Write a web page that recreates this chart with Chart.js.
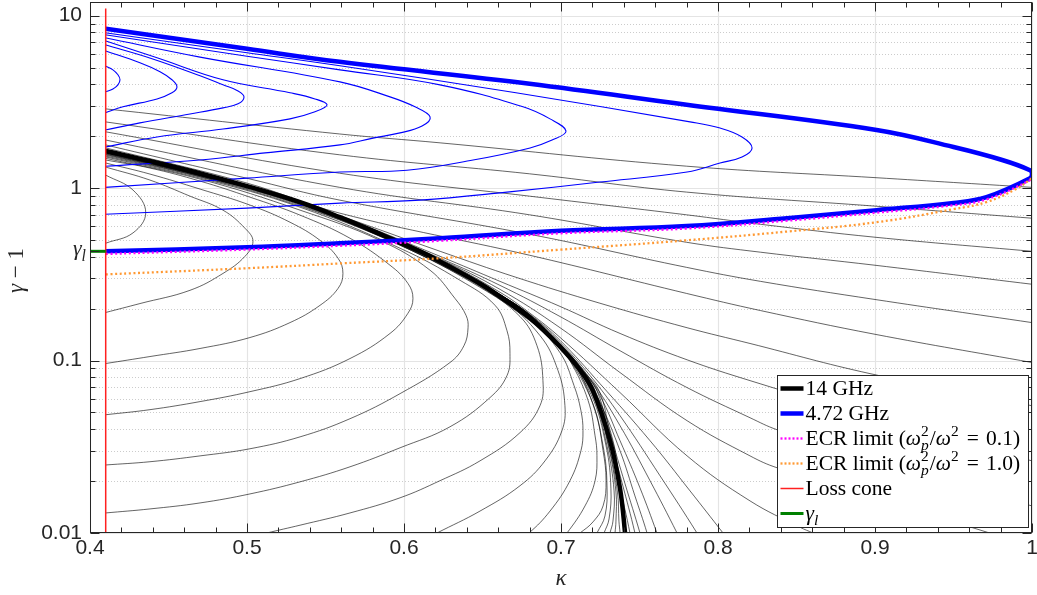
<!DOCTYPE html>
<html><head><meta charset="utf-8">
<script src="https://cdn.jsdelivr.net/npm/chart.js@4.4.0/dist/chart.umd.min.js"></script>
<style>html,body{margin:0;padding:0;background:#fff;overflow:hidden}canvas{display:block}</style>
</head><body>
<canvas id="c" width="1037" height="595"></canvas>
<script>
// ---------------- data (kappa, gamma-1) ----------------
const KAPPA_TICKS = [0.4, 0.5, 0.6, 0.7, 0.8, 0.9, 1.0];
const GAMMA_TICKS = [0.01, 0.1, 1, 10];
const GAMMA_L = 0.43;
const LOSS_CONE = 0.41;
const LOSS_CONE_TOP = 11;
const X_TITLE = 'κ';
const Y_TITLE = ['γ', ' − 1'];

const curve14GHz = [[0.41,1.641],[0.4382,1.435],[0.4745,1.19],[0.5,1.027],[0.5338,0.829],[0.5592,0.678],[0.5866,0.533],[0.6102,0.43],[0.6229,0.376],[0.6484,0.28],[0.6611,0.2355],[0.6803,0.176],[0.6994,0.1205],[0.7121,0.0884],[0.7204,0.0668],[0.7312,0.0343],[0.7376,0.0181],[0.7408,0.01],[0.7414,0.0084]];
const curve472GHz = [[0.41,8.4],[0.5,6.42],[0.559,5.4],[0.68,4.03],[0.78,3.04],[0.901,2.17],[0.95,1.73],[0.981,1.455],[0.9987,1.27],[1.0,1.21],[0.9987,1.14],[0.971,0.886],[0.95,0.82],[0.901,0.745],[0.844,0.669],[0.78,0.602],[0.70,0.565],[0.623,0.512],[0.559,0.479],[0.5,0.454],[0.41,0.43]];
const ecrLimit01 = [[0.41,0.415],[0.5,0.44],[0.559,0.463],[0.623,0.495],[0.70,0.547],[0.78,0.583],[0.844,0.647],[0.901,0.72],[0.95,0.795],[0.971,0.86],[0.9987,1.11],[1.0,1.16]];
const ecrLimit10 = [[0.41,0.316],[0.5,0.343],[0.56,0.366],[0.623,0.392],[0.70,0.44],[0.78,0.498],[0.844,0.56],[0.901,0.634],[0.95,0.755],[0.971,0.83],[0.99,0.99],[1.0,1.14]];

// 4.72 GHz thin family
const blueFamily = [
 [[0.4096,5.12],[0.4146,4.85],[0.4178,4.54],[0.4191,4.25],[0.4178,3.97],[0.4146,3.76],[0.4096,3.61]],
 [[0.4096,6.26],[0.4318,5.33],[0.4446,4.73],[0.4522,4.25],[0.4554,3.86],[0.4522,3.57],[0.4427,3.29],[0.421,2.96],[0.4096,2.73]],
 [[0.4096,6.78],[0.4395,5.63],[0.4701,4.48],[0.4847,3.97],[0.4943,3.66],[0.4981,3.38],[0.4943,3.08],[0.4847,2.92],[0.4637,2.69],[0.4318,2.39],[0.4096,2.17]],
 [[0.4096,7.16],[0.4427,5.7],[0.4847,4.25],[0.5274,3.57],[0.5433,3.29],[0.551,3.04],[0.5433,2.77],[0.5274,2.52],[0.4847,2.2],[0.4427,1.98],[0.4096,1.73]],
 [[0.4096,7.45],[0.4701,5.75],[0.5592,4.13],[0.5911,3.38],[0.607,2.96],[0.6166,2.59],[0.6115,2.29],[0.5975,2.09],[0.5803,1.95],[0.5592,1.78],[0.5115,1.60],[0.4701,1.455],[0.4096,1.34]],
 [[0.4096,7.75],[0.5,5.82],[0.5592,4.85],[0.6229,3.97],[0.6758,2.96],[0.693,2.52],[0.7032,2.14],[0.6943,1.9],[0.6803,1.71],[0.644,1.455],[0.6019,1.27],[0.5592,1.24],[0.5,1.143],[0.4096,1.01]],
 [[0.4096,7.96],[0.5,6.1],[0.5592,5.12],[0.6713,3.57],[0.7822,2.42],[0.8013,2.23],[0.8153,1.98],[0.8217,1.71],[0.8153,1.515],[0.8013,1.398],[0.7803,1.24],[0.7248,1.084],[0.6656,0.948],[0.6102,0.852],[0.5592,0.818],[0.5,0.765],[0.4096,0.706]]
];

// 14 GHz thin family: curves reaching kappa = 1
const blackUpper = [
 [[0.41,2.88],[0.559,2.06],[0.623,1.83],[0.78,1.34],[0.90,1.15],[1.0,1.01]],
 [[0.41,2.42],[0.559,1.56],[0.68,1.21],[0.78,0.948],[0.90,0.786],[1.0,0.669]],
 [[0.41,2.12],[0.559,1.22],[0.68,0.898],[0.78,0.70],[0.827,0.617],[0.90,0.519],[1.0,0.43]],
 [[0.41,1.90],[0.559,1.01],[0.68,0.70],[0.78,0.485],[0.827,0.425],[0.90,0.357],[1.0,0.277]],
 [[0.41,1.78],[0.5,1.14],[0.559,0.852],[0.68,0.54],[0.78,0.347],[0.827,0.288],[0.90,0.226],[1.0,0.166]],
 [[0.41,1.71],[0.5,1.069],[0.559,0.716],[0.68,0.408],[0.78,0.245],[0.827,0.195],[0.90,0.142],[1.0,0.0974]],
 [[0.41,1.674],[0.5,1.041],[0.559,0.692],[0.623,0.43],[0.6713,0.304],[0.7248,0.215],[0.7803,0.155],[0.8204,0.1256],[0.8968,0.084],[1.0,0.0547]],
 [[0.41,1.67],[0.5,1.038],[0.559,0.689],[0.623,0.402],[0.6611,0.288],[0.6994,0.206],[0.7376,0.1436],[0.7803,0.101],[0.8204,0.0765],[0.9159,0.0419],[1.0,0.0262]],
 [[0.41,1.665],[0.5,1.037],[0.559,0.688],[0.623,0.392],[0.6611,0.273],[0.6994,0.18],[0.7376,0.114],[0.7803,0.0697],[0.8204,0.0466],[0.8376,0.0397],[0.9159,0.0229],[1.0,0.01436]],
 [[0.41,1.663],[0.5,1.036],[0.559,0.687],[0.623,0.387],[0.6611,0.2588],[0.6994,0.155],[0.7376,0.0852],[0.7803,0.0448],[0.8204,0.028],[0.8376,0.0239],[0.9159,0.01436],[0.973,0.01],[0.99,0.0088]],
 [[0.41,1.66],[0.5,1.035],[0.559,0.686],[0.623,0.384],[0.6611,0.249],[0.6803,0.188],[0.6994,0.1362],[0.7376,0.0652],[0.7803,0.028],[0.8204,0.01535],[0.8522,0.0108],[0.8605,0.01],[0.8713,0.009]]
];

// 14 GHz thin family: curves right of the thick one, ending at the bottom
const blackRight = [
 [[0.41,1.643],[0.5,1.03],[0.559,0.68],[0.623,0.378],[0.6611,0.24],[0.6803,0.18],[0.6994,0.122],[0.7121,0.0895],[0.7217,0.0668],[0.7331,0.0343],[0.7376,0.01876],[0.7439,0.01],[0.7449,0.0084]],
 [[0.41,1.643],[0.5,1.03],[0.559,0.68],[0.623,0.378],[0.6611,0.24],[0.6803,0.181],[0.6994,0.1222],[0.7121,0.09],[0.7229,0.0668],[0.7312,0.0352],[0.7389,0.01953],[0.7471,0.01],[0.7484,0.0084]],
 [[0.41,1.643],[0.5,1.03],[0.559,0.68],[0.623,0.378],[0.6611,0.24],[0.6803,0.182],[0.6994,0.1224],[0.7121,0.0905],[0.7242,0.0668],[0.7312,0.0382],[0.7408,0.01927],[0.7503,0.01],[0.7522,0.0084]],
 [[0.41,1.643],[0.5,1.03],[0.559,0.68],[0.623,0.378],[0.6611,0.241],[0.6803,0.183],[0.6994,0.1228],[0.7121,0.091],[0.7248,0.057],[0.7376,0.030],[0.7471,0.0164],[0.7548,0.01],[0.7567,0.0084]],
 [[0.41,1.643],[0.5,1.03],[0.559,0.68],[0.623,0.378],[0.6611,0.241],[0.6803,0.183],[0.6994,0.1236],[0.7121,0.0925],[0.7248,0.0626],[0.7376,0.0343],[0.7503,0.01827],[0.7611,0.01],[0.7637,0.0084]],
 [[0.41,1.643],[0.5,1.03],[0.559,0.68],[0.623,0.378],[0.6611,0.241],[0.6803,0.183],[0.6994,0.125],[0.7185,0.0786],[0.7376,0.0419],[0.7567,0.0201],[0.7739,0.01],[0.7777,0.0084]],
 [[0.41,1.643],[0.5,1.03],[0.559,0.68],[0.623,0.378],[0.6611,0.241],[0.6803,0.184],[0.6994,0.1274],[0.7185,0.0818],[0.7376,0.0479],[0.7631,0.02145],[0.7866,0.01],[0.7911,0.0084]],
 [[0.41,1.643],[0.5,1.03],[0.559,0.681],[0.623,0.378],[0.6484,0.28],[0.6611,0.242],[0.6803,0.185],[0.6994,0.131],[0.7248,0.0735],[0.7567,0.0343],[0.7822,0.01754],[0.8032,0.01],[0.8096,0.0084]]
];

// 14 GHz thin family: curves left of the thick one (turning back)
const blackInner = [
 [[0.41,1.19],[0.4274,0.974],[0.4355,0.72],[0.4274,0.55],[0.41,0.479]],
 [[0.41,1.324],[0.4382,1.113],[0.4637,0.898],[0.4847,0.745],[0.4987,0.585],[0.5038,0.492],[0.4987,0.402],[0.4847,0.32],[0.4637,0.2555],[0.4318,0.214],[0.41,0.19]],
 [[0.41,1.398],[0.4382,1.206],[0.4701,0.987],[0.5019,0.797],[0.5274,0.634],[0.5465,0.498],[0.558,0.392],[0.5611,0.32],[0.558,0.262],[0.5465,0.209],[0.5274,0.166],[0.5019,0.136],[0.4701,0.1175],[0.4382,0.1055],[0.41,0.0961]],
 [[0.41,1.455],[0.4382,1.307],[0.4701,1.098],[0.5019,0.886],[0.5338,0.697],[0.5656,0.512],[0.5911,0.357],[0.6025,0.28],[0.6057,0.229],[0.6025,0.188],[0.5911,0.1436],[0.5656,0.1027],[0.5338,0.0786],[0.5019,0.066],[0.4701,0.0578],[0.4382,0.0519],[0.41,0.0485]],
 [[0.41,1.488],[0.4701,1.128],[0.5338,0.745],[0.5847,0.498],[0.6166,0.334],[0.6325,0.229],[0.6395,0.183],[0.6408,0.155],[0.6382,0.122],[0.6293,0.0974],[0.5975,0.0643],[0.5656,0.046],[0.5338,0.0361],[0.5019,0.0308],[0.4701,0.028],[0.4382,0.0259],[0.41,0.0248]],
 [[0.41,1.515],[0.4701,1.143],[0.5338,0.775],[0.5975,0.448],[0.6357,0.292],[0.658,0.209],[0.6656,0.149],[0.6675,0.11],[0.6656,0.0818],[0.6548,0.061],[0.6293,0.0413],[0.5975,0.0312],[0.5656,0.0242],[0.5338,0.0198],[0.5019,0.01685],[0.4701,0.01494],[0.4382,0.01379],[0.41,0.01307]],
 [[0.41,1.534],[0.4701,1.159],[0.5338,0.786],[0.5975,0.466],[0.6484,0.266],[0.6739,0.18],[0.6847,0.122],[0.6885,0.0765],[0.6866,0.0547],[0.6739,0.0382],[0.6484,0.0262],[0.6229,0.0201],[0.5975,0.016],[0.5656,0.01307],[0.5338,0.0111],[0.5127,0.01],[0.4936,0.009]],
 [[0.41,1.555],[0.4701,1.166],[0.5338,0.797],[0.6102,0.413],[0.6611,0.229],[0.6866,0.1397],[0.6981,0.0875],[0.7025,0.0548],[0.7006,0.0392],[0.6898,0.0262],[0.6739,0.0188],[0.6484,0.0134],[0.621,0.01],[0.6083,0.0087]],
 [[0.41,1.57],[0.4701,1.175],[0.5338,0.81],[0.6229,0.361],[0.6803,0.17],[0.6994,0.111],[0.7083,0.0716],[0.7127,0.0512],[0.714,0.0392],[0.7127,0.03],[0.7057,0.0201],[0.693,0.0134],[0.6796,0.01],[0.6675,0.0084]],
 [[0.41,1.58],[0.4701,1.179],[0.5338,0.807],[0.6229,0.366],[0.6803,0.172],[0.6994,0.117],[0.7057,0.1],[0.7172,0.0589],[0.7217,0.0366],[0.7229,0.0281],[0.7217,0.0201],[0.7153,0.01436],[0.7038,0.01],[0.6962,0.0084]],
 [[0.41,1.594],[0.4701,1.182],[0.5338,0.811],[0.6229,0.368],[0.6803,0.173],[0.6994,0.118],[0.7089,0.095],[0.7217,0.0512],[0.7268,0.03],[0.7287,0.0201],[0.7268,0.01436],[0.7204,0.0116],[0.7121,0.01],[0.7057,0.0091]],
 [[0.41,1.60],[0.4701,1.185],[0.5338,0.815],[0.6229,0.369],[0.6803,0.1735],[0.6994,0.119],[0.7185,0.0618],[0.7268,0.032],[0.7293,0.01876],[0.728,0.01256],[0.7229,0.01],[0.7197,0.00875]],
 [[0.41,1.606],[0.4701,1.187],[0.5338,0.817],[0.6229,0.371],[0.6803,0.174],[0.6994,0.1195],[0.7191,0.0636],[0.7287,0.032],[0.7318,0.01803],[0.7306,0.01206],[0.7274,0.01],[0.7248,0.00875]],
 [[0.41,1.613],[0.4701,1.188],[0.5338,0.819],[0.6229,0.373],[0.6803,0.1745],[0.6994,0.12],[0.7197,0.0643],[0.7293,0.032],[0.7338,0.01754],[0.7331,0.01172],[0.7312,0.01],[0.7299,0.00875]],
 [[0.41,1.62],[0.4701,1.19],[0.5338,0.822],[0.6229,0.374],[0.6803,0.175],[0.6994,0.1202],[0.7201,0.0648],[0.7303,0.0316],[0.735,0.0173],[0.735,0.01172],[0.7344,0.01],[0.7338,0.00875]],
 [[0.41,1.628],[0.4701,1.192],[0.5338,0.826],[0.6229,0.375],[0.6803,0.1755],[0.6994,0.1204],[0.7204,0.065],[0.7306,0.0316],[0.736,0.0171],[0.7369,0.01172],[0.7376,0.01],[0.7379,0.00875]]
];

// ---------------- styles ----------------
const THIN_BLACK = 'rgba(0,0,0,0.72)';
const BLUE = '#0000ff';
const MAGENTA = '#ff00ff';
const ORANGE = '#ff9933';
const RED = '#ff2020';
const GREEN = '#008000';
const AXIS = '#262626';
const SERIF = '"Liberation Serif", "DejaVu Serif", serif';
const SANS = '"Liberation Sans", Arial, sans-serif';

const sets = [];
function addLine(pts, color, width, order, opt) {
  sets.push(Object.assign({
    data: pts.map(p => ({x: p[0], y: p[1]})),
    showLine: true, borderColor: color, backgroundColor: color,
    borderWidth: width, pointRadius: 0, pointHoverRadius: 0,
    tension: 0.4, fill: false, order: order
  }, opt || {}));
}
blackInner.forEach(c => addLine(c, THIN_BLACK, 0.85, 10));
blackUpper.forEach(c => addLine(c, THIN_BLACK, 0.85, 10));
blackRight.forEach(c => addLine(c, THIN_BLACK, 0.85, 10));
blueFamily.forEach(c => addLine(c, BLUE, 1.1, 9));
addLine(curve14GHz, '#000000', 4.5, 8);
addLine(curve472GHz, BLUE, 4.5, 7);
addLine(ecrLimit01, MAGENTA, 2.3, 6, {borderDash: [2, 2.6]});
addLine(ecrLimit10, ORANGE, 2.3, 5, {borderDash: [2, 2.6]});
addLine([[LOSS_CONE, 0.01], [LOSS_CONE, LOSS_CONE_TOP]], RED, 1.5, 4, {tension: 0});
addLine([[KAPPA_TICKS[0], GAMMA_L], [LOSS_CONE, GAMMA_L]], GREEN, 3, 3, {tension: 0});

// legend entries
const EQ = ' \u200A=\u200A ';
const legendEntries = [
  {runs: [{t: '14 GHz'}], color: '#000000', w: 4.5},
  {runs: [{t: '4.72 GHz'}], color: BLUE, w: 4.5},
  {runs: [{t: 'ECR limit ('}, {t: 'ω', it: 1}, {t: '2', sup: 1, hold: 1}, {t: 'p', sub: 1, it: 1}, {t: '/'}, {t: 'ω', it: 1}, {t: '2', sup: 1}, {t: EQ + '0.1)'}], color: MAGENTA, w: 2.3, dash: [2, 2]},
  {runs: [{t: 'ECR limit ('}, {t: 'ω', it: 1}, {t: '2', sup: 1, hold: 1}, {t: 'p', sub: 1, it: 1}, {t: '/'}, {t: 'ω', it: 1}, {t: '2', sup: 1}, {t: EQ + '1.0)'}], color: ORANGE, w: 2.3, dash: [2, 2]},
  {runs: [{t: 'Loss cone'}], color: RED, w: 1.5},
  {runs: [{t: 'γ', it: 1}, {t: 'l', sub: 1, it: 1}], color: GREEN, w: 3}
];

function runsWidth(ctx, runs, size) {
  let w = 0;
  for (const r of runs) {
    const s = (r.sup || r.sub) ? size * 0.72 : size;
    ctx.font = (r.it ? 'italic ' : '') + s + 'px ' + SERIF;
    if (!r.hold) w += ctx.measureText(r.t).width;
  }
  return w;
}
function drawRuns(ctx, x, y, runs, size) {
  let cx = x;
  for (const r of runs) {
    const s = (r.sup || r.sub) ? size * 0.72 : size;
    ctx.font = (r.it ? 'italic ' : '') + s + 'px ' + SERIF;
    const dy = r.sup ? -size * 0.38 : (r.sub ? size * 0.24 : 0);
    ctx.fillText(r.t, cx, y + dy);
    if (!r.hold) cx += ctx.measureText(r.t).width + ((r.sup || r.sub) ? 1 : 0);
  }
  return cx;
}

const framePlugin = {
  id: 'frame',
  beforeDatasetsDraw(chart) {
    const {ctx, chartArea: a, scales: {x, y}} = chart;
    ctx.save();
    ctx.lineWidth = 1;
    ctx.strokeStyle = 'rgba(0,0,0,0.2)';
    ctx.setLineDash([1, 2]);
    for (const dec of GAMMA_TICKS) {
      for (let m = 2; m <= 9; m++) {
        const v = dec * m;
        if (v >= y.max) break;
        const p = Math.round(y.getPixelForValue(v)) + 0.5;
        ctx.beginPath(); ctx.moveTo(a.left, p); ctx.lineTo(a.right, p); ctx.stroke();
      }
    }
    ctx.setLineDash([]);
    ctx.strokeStyle = '#e4e4e4';
    ctx.lineWidth = 1.2;
    for (const v of GAMMA_TICKS) {
      const p = Math.round(y.getPixelForValue(v)) + 0.5;
      ctx.beginPath(); ctx.moveTo(a.left, p); ctx.lineTo(a.right, p); ctx.stroke();
    }
    for (const v of KAPPA_TICKS) {
      const p = Math.round(x.getPixelForValue(v)) + 0.5;
      ctx.beginPath(); ctx.moveTo(p, a.top); ctx.lineTo(p, a.bottom); ctx.stroke();
    }
    ctx.restore();
  },
  afterDatasetsDraw(chart) {
    const {ctx, chartArea: a, scales: {x, y}} = chart;
    ctx.save();
    ctx.strokeStyle = AXIS;
    ctx.lineWidth = 1;
    const L = Math.round(a.left) + 0.5, R = Math.round(a.right) - 0.5;
    const T = Math.round(a.top) + 0.5, B = Math.round(a.bottom) - 0.5;
    ctx.strokeRect(L, T, R - L, B - T);
    const seg = (x1, y1, x2, y2) => { ctx.beginPath(); ctx.moveTo(x1, y1); ctx.lineTo(x2, y2); ctx.stroke(); };
    for (let i = 0; i <= 30; i++) {
      const v = KAPPA_TICKS[0] + i * 0.02;
      const p = Math.round(x.getPixelForValue(v)) + 0.5;
      const len = (i % 5 === 0) ? 9 : 5;
      seg(p, B, p, B - len); seg(p, T, p, T + len);
    }
    const yt = (v, len) => { const p = Math.round(y.getPixelForValue(v)) + 0.5; seg(L, p, L + len, p); seg(R, p, R - len, p); };
    for (const dec of GAMMA_TICKS) {
      yt(dec, 9);
      for (let m = 2; m <= 9; m++) { if (dec * m < y.max) yt(dec * m, 5); }
    }
    yt(GAMMA_L, 9);
    ctx.restore();
  },
  afterDraw(chart) {
    const {ctx, chartArea: a, scales: {y}} = chart;
    ctx.save();
    ctx.fillStyle = AXIS;
    ctx.textBaseline = 'alphabetic';
    const py = y.getPixelForValue(GAMMA_L);
    const gl = [{t: 'γ', it: 1}, {t: 'l', sub: 1, it: 1}];
    const glw = runsWidth(ctx, gl, 22);
    drawRuns(ctx, a.left - 4 - glw, py + 4, gl, 22);
    ctx.font = 'italic 23px ' + SERIF;
    ctx.textAlign = 'center';
    ctx.fillText(X_TITLE, (a.left + a.right) / 2, a.bottom + 52);
    ctx.textAlign = 'left';
    const yr = [{t: Y_TITLE[0], it: 1}, {t: Y_TITLE[1]}];
    const yw = runsWidth(ctx, yr, 23);
    ctx.save();
    ctx.translate(23, (a.top + a.bottom) / 2 + 3);
    ctx.rotate(-Math.PI / 2);
    drawRuns(ctx, -yw / 2, 0, yr, 23);
    ctx.restore();
    const bw = 251, bh = 152;
    const bx = Math.round(a.right - 4 - bw) + 0.5, by = Math.round(a.bottom - 6 - bh) + 0.5;
    ctx.fillStyle = '#ffffff';
    ctx.fillRect(bx, by, bw, bh);
    ctx.strokeStyle = AXIS;
    ctx.lineWidth = 1;
    ctx.strokeRect(bx, by, bw, bh);
    legendEntries.forEach((e, i) => {
      const ry = by + 13 + i * 25;
      ctx.save();
      ctx.strokeStyle = e.color;
      ctx.lineWidth = e.w;
      ctx.setLineDash(e.dash || []);
      ctx.beginPath(); ctx.moveTo(bx + 3, ry); ctx.lineTo(bx + 26, ry); ctx.stroke();
      ctx.restore();
      ctx.fillStyle = '#000000';
      drawRuns(ctx, bx + 28, ry + 6, e.runs, 21.5);
    });
    ctx.restore();
  }
};

new Chart(document.getElementById('c').getContext('2d'), {
  type: 'scatter',
  data: {datasets: sets},
  options: {
    responsive: false, animation: false, devicePixelRatio: 1, events: [],
    layout: {padding: {left: 0, top: 2, right: 5, bottom: 0}},
    plugins: {legend: {display: false}, tooltip: {enabled: false}},
    scales: {
      x: {
        type: 'linear', min: KAPPA_TICKS[0], max: KAPPA_TICKS[KAPPA_TICKS.length - 1],
        grid: {display: false, drawTicks: false}, border: {display: false},
        ticks: {font: {family: SANS, size: 21}, color: AXIS, padding: 3, maxRotation: 0, autoSkip: false,
          callback: v => (v === 1 ? '1' : Number(v).toFixed(1))},
        afterBuildTicks: s => { s.ticks = KAPPA_TICKS.map(v => ({value: v})); },
        afterFit: s => { s.height = 62; s.paddingLeft = 0; s.paddingRight = 0; }
      },
      y: {
        type: 'logarithmic', min: GAMMA_TICKS[0], max: 12,
        grid: {display: false, drawTicks: false}, border: {display: false},
        ticks: {font: {family: SANS, size: 21}, color: AXIS, padding: 8, autoSkip: false,
          callback: v => String(v)},
        afterBuildTicks: s => { s.ticks = GAMMA_TICKS.map(v => ({value: v})); },
        afterFit: s => { s.width = 90; s.paddingTop = 0; s.paddingBottom = 0; }
      }
    }
  },
  plugins: [framePlugin]
});
</script>
</body></html>
